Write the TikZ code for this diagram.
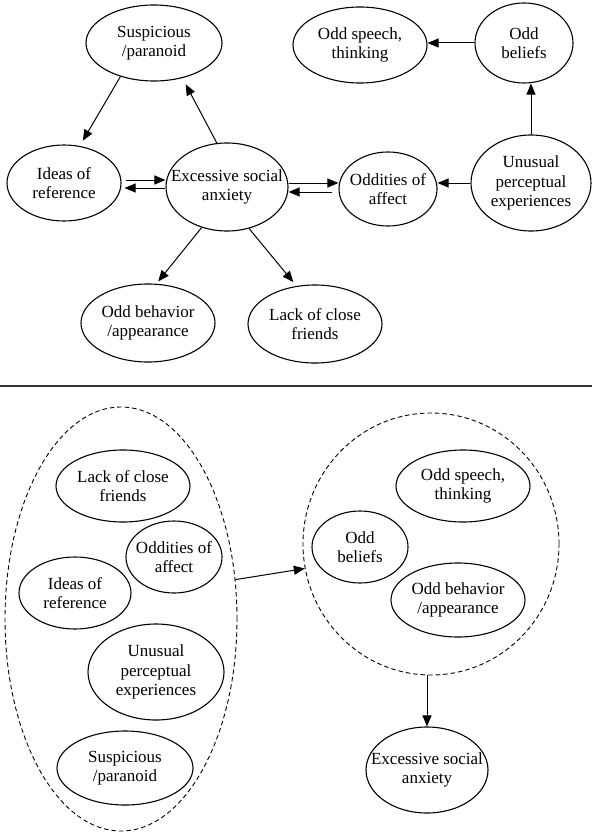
\documentclass[tikz,border=0pt]{standalone}
\usepackage{fontspec}
\setmainfont{Liberation Serif}
\usetikzlibrary{shapes.geometric,arrows.meta}
\begin{document}
\begin{tikzpicture}[x=1pt,y=-1pt,
  oval/.style 2 args={ellipse, draw, line width=1.1pt, minimum width=#1pt,
    minimum height=#2pt, inner xsep=-30pt, inner ysep=-14pt, align=center,
    font=\fontsize{17}{19.5}\selectfont},
  group/.style 2 args={ellipse, draw, line width=0.9pt, dash pattern=on 4.5pt off 3pt,
    minimum width=#1pt, minimum height=#2pt, inner sep=0pt},
  arr/.style={line width=1pt, -{Triangle[length=11pt,width=9pt]}},
  rule/.style={line width=1.2pt, black!80}]
\useasboundingbox (0,0) rectangle (592,832);

% ---- upper diagram: symptom network ----
\node[oval={136}{76}] (sus) at (154,43)  {Suspicious\\/paranoid};
\node[oval={114}{76}] (ide) at (64,183)  {Ideas of\\reference};
\node[oval={122}{88}] (esa) at (227,187) {Excessive social\\anxiety};
\node[oval={98}{74}]  (odd) at (388,189) {Oddities of\\affect};
\node[oval={120}{96}] (unu) at (531,183) {Unusual\\perceptual\\experiences};
\node[oval={98}{80}]  (bel) at (524,43)  {Odd\\beliefs};
\node[oval={134}{76}] (spe) at (360,45)  {Odd speech,\\thinking};
\node[oval={134}{78}] (beh) at (148,323) {Odd behavior\\/appearance};
\node[oval={134}{78}] (lac) at (315,324) {Lack of close\\friends};

\draw[arr, shorten >=6pt] (sus.225) -- (ide.67);
\draw[arr, shorten >=7pt] (esa.103) -- (sus.309);

\coordinate (ie1) at ([yshift=3pt]ide.east);
\coordinate (ie2) at ([yshift=-1pt]esa.west);
\draw[arr, shorten <=4pt] (ie1) -- (ie1 -| esa.west);
\draw[arr, shorten >=3pt] (ie2) -- (ie2 -| ide.east);

\coordinate (eo1) at ([yshift=4pt]esa.east);
\coordinate (eo2) at ([yshift=-5pt]esa.east);
\draw[arr] (eo1) -- (eo1 -| odd.west);
\draw[arr, shorten <=6pt] (eo2 -| odd.west) -- (eo2);

\draw[arr] (unu.west) -- (unu.west -| odd.east);
\draw[arr] (unu.north) -- (unu.north |- bel.south);
\draw[arr] (bel.west) -- (bel.west -| spe.east);
\draw[arr, shorten >=3pt] (esa.238) -- (beh.78);
\draw[arr, shorten >=5pt] (esa.298) -- (lac.116);

% ---- separator ----
\coordinate (rule-l) at (0,386);
\coordinate (rule-r) at (592,386);
\draw[rule] (rule-l) -- (rule-r);

% ---- lower diagram: grouped symptoms ----
\node[group={232}{424}] (grpA) at (121,619) {};
\node[group={256}{262}] (grpB) at (431,544) {};

\node[oval={134}{72}] (lac2) at (123,486) {Lack of close\\friends};
\node[oval={96}{72}]  (odd2) at (174,557) {Oddities of\\affect};
\node[oval={112}{72}] (ide2) at (75,593)  {Ideas of\\reference};
\node[oval={136}{96}] (unu2) at (156,672) {Unusual\\perceptual\\experiences};
\node[oval={136}{74}] (sus2) at (125,768) {Suspicious\\/paranoid};

\node[oval={134}{72}] (spe2) at (463,486) {Odd speech,\\thinking};
\node[oval={96}{72}]  (bel2) at (360,547) {Odd\\beliefs};
\node[oval={134}{74}] (beh2) at (458,600) {Odd behavior\\/appearance};

\node[oval={122}{86}] (esa2) at (427,770) {Excessive social\\anxiety};

\draw[arr] (grpA.19) -- (grpB.191);
\draw[arr] (esa2.north |- grpB.south) -- (esa2.north);
\end{tikzpicture}
\end{document}
